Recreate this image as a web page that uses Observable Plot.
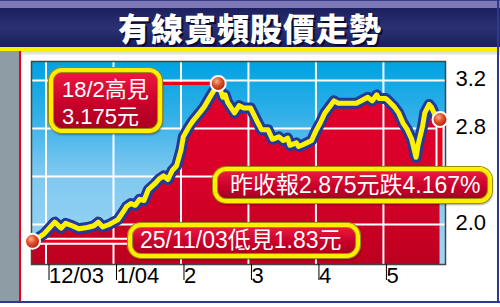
<!DOCTYPE html>
<html>
<head>
<meta charset="utf-8">
<script src="https://cdn.jsdelivr.net/npm/d3@7"></script>
<script src="https://cdn.jsdelivr.net/npm/@observablehq/plot@0.6"></script>
<style>
  html, body { margin: 0; padding: 0; background: #fff; }
  #wrap { position: relative; width: 500px; height: 307px; overflow: hidden; background: #fff;
    font-family: "Liberation Sans", "Noto Sans CJK TC", Arial, sans-serif; }
  #plot { position: absolute; left: 0; top: 0; }
  .topstrip { position: absolute; left: 0; top: 0; width: 500px; height: 8px; background: #7d79b7; border-top: 1px solid #3a3d8a; box-sizing: border-box; }
  .title { position: absolute; left: 0; top: 8px; width: 500px; height: 39px;
    background: linear-gradient(#1b1f5c, #2b3174 50%, #1b1f5c);
    color: #fff; text-align: center; font-family: "Noto Sans CJK TC", sans-serif; font-weight: 900;
    font-size: 32px; line-height: 39px; letter-spacing: 1px; text-shadow: 2px 2px 0 #0a0c30; }
  .yellow { position: absolute; left: 0; top: 47px; width: 500px; height: 4px; background: #ffee00; }
  .subband { position: absolute; left: 0; top: 51px; width: 500px; height: 4px; background: linear-gradient(#cfd3d8, #f2f2f2); }
  .leftstrip { position: absolute; left: 0; top: 51px; width: 19px; height: 250px; background: #8e9ca6; }
  .redline { position: absolute; left: 19px; top: 51px; width: 2px; height: 250px; background: #e8001c; }
  .bottomline { position: absolute; left: 0; top: 301px; width: 500px; height: 2px; background: #2b3a8f; }
  .rightline { position: absolute; left: 497px; top: 0; width: 2px; height: 303px; background: #2b3a8f; }
  .box { position: absolute; box-sizing: border-box; border: 4px solid #ffee00; border-radius: 13px;
    background: linear-gradient(#ec1a40, #c8002a 55%, #a80020);
    box-shadow: 0 0 0 1px #9c8d00, inset 0 0 0 1px #9c8d00, 1px 2px 2px rgba(0,0,0,0.35);
    color: #fff; white-space: nowrap; font-family: "Liberation Sans", "Noto Sans CJK TC", Arial, sans-serif; }
</style>
</head>
<body>
<div id="wrap">
  <div id="plot"></div>
  <div class="topstrip"></div>
  <div class="title">有線寬頻股價走勢</div>
  <div class="yellow"></div>
  <div class="subband"></div>
  <div class="leftstrip"></div>
  <div class="redline"></div>
  <div class="bottomline"></div>
  <div class="rightline"></div>
  <div class="box" style="left:49px;top:68px;width:113px;height:65px;font-size:22px;line-height:27px;padding:4px 0 0 9px;">18/2高見<br>3.175元</div>
  <div class="box" style="left:213px;top:167px;width:279px;height:36px;font-size:23px;line-height:28px;padding:0 0 0 13px;">昨收報2.875元跌4.167%</div>
  <div class="box" style="left:128px;top:223px;width:232px;height:35px;font-size:23px;line-height:27px;padding:0 0 0 8px;">25/11/03低見1.83元</div>
</div>
<script>
// ---- data ----
const dates = [
  "2003-11-25","2003-11-30","2003-12-03","2003-12-05","2003-12-08","2003-12-10","2003-12-13","2003-12-16",
  "2003-12-20","2003-12-23","2003-12-25","2003-12-27","2003-12-30","2004-01-01","2004-01-03","2004-01-06",
  "2004-01-07","2004-01-09","2004-01-11","2004-01-13","2004-01-15","2004-01-17","2004-01-20","2004-01-22",
  "2004-01-24","2004-01-26","2004-01-28","2004-01-30","2004-02-01","2004-02-02","2004-02-04","2004-02-06",
  "2004-02-09","2004-02-11","2004-02-14","2004-02-17","2004-02-19","2004-02-20","2004-02-21","2004-02-24",
  "2004-02-26","2004-02-28","2004-03-02","2004-03-05","2004-03-07","2004-03-10","2004-03-12","2004-03-15",
  "2004-03-17","2004-03-19","2004-03-20","2004-03-23","2004-03-24","2004-03-26","2004-03-30","2004-04-01",
  "2004-04-03","2004-04-05","2004-04-07","2004-04-09","2004-04-11","2004-04-14","2004-04-19","2004-04-22",
  "2004-04-24","2004-04-26","2004-04-28","2004-04-29","2004-05-02","2004-05-03","2004-05-06","2004-05-08",
  "2004-05-10","2004-05-12","2004-05-14","2004-05-16","2004-05-17","2004-05-19","2004-05-20","2004-05-22",
  "2004-05-23","2004-05-25","2004-05-27"
];
const prices = [
  1.86, 1.92, 1.98, 2.02, 1.97, 2.01, 1.99, 1.965,
  1.975, 1.99, 2.02, 1.98, 2.0, 2.02, 2.04, 2.12,
  2.15, 2.175, 2.16, 2.21, 2.2, 2.29, 2.34, 2.38,
  2.405, 2.375, 2.45, 2.49, 2.62, 2.73, 2.80, 2.86,
  2.93, 2.98, 3.08, 3.175, 3.06, 3.08, 3.02, 2.93,
  2.99, 2.97, 2.97, 2.86, 2.79, 2.79, 2.71, 2.73,
  2.70, 2.72, 2.66, 2.68, 2.65, 2.665, 2.70, 2.78,
  2.85, 2.93, 2.98, 3.03, 3.01, 3.01, 3.01, 3.04,
  3.06, 3.03, 3.08, 3.05, 3.05, 3.035, 2.98, 2.93,
  2.845, 2.79, 2.71, 2.56, 2.67, 2.82, 2.93, 3.0,
  2.98, 2.90, 2.875
];
const tickMonths = [0, 1, 2, 3, 4, 5];
const tickLabels = ["12/03", "1/04", "2", "3", "4", "5"];
const yGrid = [2.0, 2.4, 2.8, 3.2];
const yLabels = [2.0, 2.8, 3.2];
const highDate = "2004-02-17", highPrice = 3.175;
const lowDate = "2003-11-25", lowPrice = 1.86;
const lastDate = "2004-05-27", lastPrice = 2.875;

// month index: 0 = start of Dec 2003, each month one unit
function monthIndex(s) {
  const [y, m, d] = s.split("-").map(Number);
  const days = new Date(y, m, 0).getDate();
  return (y - 2003) * 12 + (m - 12) + (d - 1) / days;
}
const series = dates.map((d, i) => ({m: monthIndex(d), v: prices[i]}));
const keyPoints = [
  {m: monthIndex(lowDate), v: lowPrice},
  {m: monthIndex(highDate), v: highPrice},
  {m: monthIndex(lastDate), v: lastPrice}
];
const xDomain = [-0.215, 5.92];
const yDomain = [1.667, 3.358];

const chart = Plot.plot({
  width: 500, height: 307,
  marginTop: 61, marginRight: 55, marginBottom: 43, marginLeft: 31,
  x: {type: "linear", domain: xDomain},
  y: {type: "linear", domain: yDomain},
  style: {fontFamily: "'Liberation Sans', Arial, sans-serif", color: "#000", background: "transparent", overflow: "visible"},
  marks: [
    Plot.frame({fill: "url(#bgGrad)"}),
    Plot.areaY(series, {x: "m", y1: yDomain[0], y2: "v", fill: "url(#redGrad)"}),
    Plot.gridX(tickMonths, {stroke: "#fff", strokeOpacity: 1, strokeWidth: 2}),
    Plot.gridY(yGrid, {stroke: "#fff", strokeOpacity: 1, strokeWidth: 2}),
    Plot.frame({stroke: "#444", strokeWidth: 1.5}),
    // connectors
    Plot.ruleY([highPrice], {x1: tickMonths[1], x2: monthIndex(highDate), stroke: "#e8001c", strokeWidth: 3}),
    Plot.ruleY([lowPrice], {x1: monthIndex(lowDate), x2: tickMonths[2], stroke: "#fff", strokeWidth: 7}),
    Plot.ruleY([lowPrice], {x1: monthIndex(lowDate), x2: tickMonths[2], stroke: "#e8001c", strokeWidth: 3}),
    Plot.ruleX([monthIndex(lastDate)], {y1: lastPrice, y2: yGrid[1], stroke: "#fff", strokeWidth: 9}),
    Plot.ruleX([monthIndex(lastDate)], {y1: lastPrice, y2: yGrid[1], stroke: "#e8001c", strokeWidth: 5}),
    // price line
    Plot.line(series, {x: "m", y: "v", stroke: "#1f3c9c", strokeWidth: 11, strokeLinejoin: "round", strokeLinecap: "round"}),
    Plot.line(series, {x: "m", y: "v", stroke: "#fff200", strokeWidth: 5, strokeLinejoin: "round", strokeLinecap: "round"}),
    Plot.dot(keyPoints, {x: "m", y: "v", r: 7.5, fill: "url(#dotGrad)", stroke: "#fff", strokeWidth: 2}),
    Plot.axisX(tickMonths, {anchor: "bottom", tickSize: 16, tickPadding: -13, textAnchor: "start", dx: 3,
      fontSize: 22, tickFormat: d => tickLabels[tickMonths.indexOf(d)], label: null, stroke: "#000"}),
    Plot.axisY(yLabels, {anchor: "right", tickSize: 0, tickPadding: 10, fontSize: 22, dy: -2,
      tickFormat: d => d.toFixed(1), label: null})
  ]
});

const svg = d3.select(chart);
const defs = svg.insert("defs", ":first-child");
const bg = defs.append("linearGradient").attr("id", "bgGrad").attr("x1", 0).attr("y1", 0).attr("x2", 0).attr("y2", 1);
[["0%", "#00a2e2"], ["25%", "#2eafe8"], ["55%", "#7fc8f0"], ["100%", "#9ed6f5"]].forEach(([o, c]) => bg.append("stop").attr("offset", o).attr("stop-color", c));
const rg = defs.append("linearGradient").attr("id", "redGrad").attr("gradientUnits", "userSpaceOnUse").attr("x1", 0).attr("y1", 80).attr("x2", 0).attr("y2", 264);
[["0%", "#e2002c"], ["60%", "#d60028"], ["100%", "#bc0020"]].forEach(([o, c]) => rg.append("stop").attr("offset", o).attr("stop-color", c));
const dg = defs.append("radialGradient").attr("id", "dotGrad").attr("cx", "0.4").attr("cy", "0.35").attr("r", "0.65");
[["0%", "#ffb08a"], ["45%", "#e4532c"], ["100%", "#a61f10"]].forEach(([o, c]) => dg.append("stop").attr("offset", o).attr("stop-color", c));

document.getElementById("plot").appendChild(chart);
</script>
</body>
</html>
